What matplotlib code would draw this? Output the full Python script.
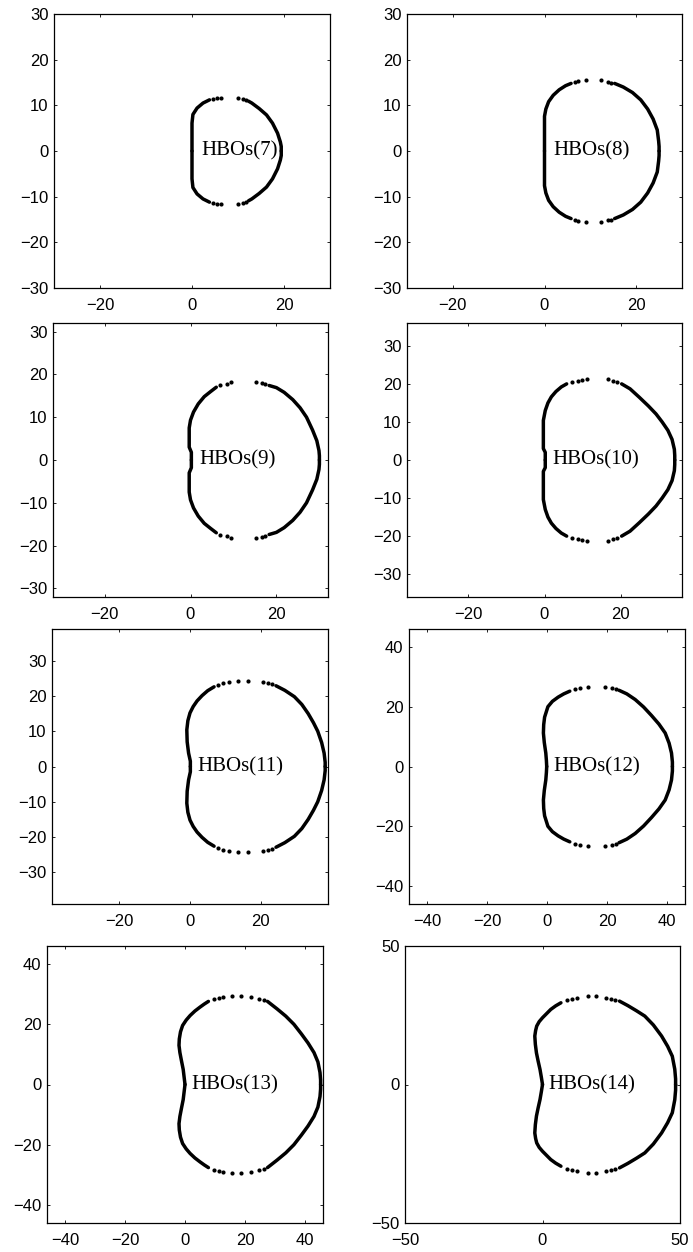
"""Boundary loci of the HBOs(k) stability regions, k = 7..14 (4x2 grid)."""
import matplotlib
matplotlib.use("Agg")
import matplotlib.pyplot as plt
import numpy as np

plt.rcParams["font.family"] = ["Liberation Sans", "DejaVu Sans"]

# upper half of each locus (the plot is symmetric about Re axis)
# left branch from the real axis up, sparse dots near the top, right branch down to the real axis
H7_LEFT = [(0, 0), (0, 6.1), (0.2, 8.0), (1.1, 9.4), (2.4, 10.5), (3.8, 11.2)]
H7_DOTS = [(4.6, 11.4), (5.4, 11.5), (6.3, 11.7), (9.9, 11.7), (11.0, 11.4), (11.8, 11.1)]
H7_RIGHT = [(12.3, 10.9), (13.0, 10.5), (14.6, 9.3), (16.2, 7.9), (17.5, 6.1),
            (18.6, 3.9), (19.2, 2.0), (19.4, 1.0), (19.4, 0)]

H8_LEFT = [(0, 0), (0, 7.6), (0.3, 9.2), (0.9, 10.8), (1.9, 12.2), (3.2, 13.4),
           (4.6, 14.3), (5.8, 14.8)]
H8_DOTS = [(6.6, 15.1), (7.4, 15.3), (9.0, 15.5), (12.3, 15.5), (13.9, 15.2), (14.6, 15.0)]
H8_RIGHT = [(15.3, 14.8), (17.2, 14.0), (19.2, 12.8), (21.0, 11.2), (22.5, 9.2),
            (23.7, 7.0), (24.6, 4.6), (24.9, 2.2), (25.0, 1.0), (25.0, 0)]

H9_LEFT = [(0.2, 0), (0.2, 1.8), (-0.3, 3.0), (-0.3, 7.5), (0, 9.3), (0.7, 11.2),
           (1.8, 13.1), (3.2, 14.8), (4.7, 16.0), (6.0, 17.0)]
H9_DOTS = [(6.9, 17.5), (8.4, 17.8), (9.4, 18.3), (15.3, 18.3), (16.6, 18.0), (17.4, 17.8)]
H9_RIGHT = [(18.3, 17.4), (20.0, 16.9), (21.8, 15.8), (23.8, 14.1), (25.5, 12.2),
            (27.0, 10.0), (28.4, 7.0), (29.4, 4.5), (29.9, 2.2), (30.0, 1.0), (30.0, 0)]

H10_LEFT = [(0.2, 0), (0.2, 2.0), (-0.3, 3.0), (-0.3, 10.4), (0.2, 13.0), (0.9, 15.0),
            (1.8, 16.6), (3.0, 18.0), (4.4, 19.2), (5.8, 20.0)]
H10_DOTS = [(7.2, 20.5), (8.9, 20.8), (9.7, 21.0), (11.2, 21.2),
            (16.5, 21.2), (18.0, 20.8), (19.1, 20.5)]
H10_RIGHT = [(20.2, 20.0), (22.4, 18.7), (24.8, 16.5), (27.2, 14.2), (29.2, 12.1),
             (30.8, 10.0), (32.3, 7.8), (33.4, 5.4), (34.0, 2.8), (34.1, 1.2), (34.1, 0)]

H11_LEFT = [(0.1, 0), (0.1, 1.5), (-0.4, 3.8), (-0.8, 7.0), (-0.9, 10.4), (-0.6, 13.0),
            (0, 15.2), (0.9, 17.0), (2.0, 18.6), (3.4, 20.1), (5.0, 21.5), (6.8, 22.6)]
H11_DOTS = [(7.8, 23.1), (9.2, 23.6), (11.1, 24.0), (13.7, 24.2), (16.3, 24.2),
            (20.7, 24.0), (22.0, 23.6), (23.1, 23.3)]
H11_RIGHT = [(24.3, 22.9), (26.8, 21.6), (29.5, 19.8), (31.6, 17.6), (33.4, 15.0),
             (34.9, 12.4), (36.1, 10.0), (37.2, 6.8), (37.9, 3.8), (38.2, 1.2), (38.2, 0)]

H12_LEFT = [(-0.1, 0), (-0.2, 2.0), (-0.4, 4.5), (-0.9, 8.0), (-1.2, 11.2), (-1.1, 14.0),
            (-0.8, 16.5), (0.3, 20.0), (1.8, 21.8), (3.7, 23.2), (5.6, 24.3), (7.6, 25.2)]
H12_DOTS = [(9.3, 25.8), (10.9, 26.2), (13.5, 26.7), (19.3, 26.7), (21.5, 26.2), (22.9, 25.9)]
H12_RIGHT = [(24.0, 25.5), (26.6, 24.3), (29.4, 22.4), (32.2, 19.9), (34.8, 17.1),
             (37.3, 14.2), (39.4, 11.2), (40.7, 7.8), (41.5, 4.5), (41.8, 1.5), (41.8, 0)]

H13_LEFT = [(0, 0), (-0.3, 2.5), (-0.6, 5.0), (-1.2, 8.0), (-1.7, 10.6), (-2.0, 13.0),
            (-1.9, 15.1), (-1.5, 17.5), (-0.8, 19.6), (0.4, 21.4), (1.7, 22.9),
            (3.3, 24.4), (5.0, 25.7), (6.4, 26.7), (7.8, 27.6)]
H13_DOTS = [(9.5, 28.3), (11.2, 28.7), (12.6, 29.0), (15.6, 29.5), (18.7, 29.5),
            (22.0, 29.0), (24.6, 28.5), (26.3, 28.2)]
H13_RIGHT = [(27.5, 27.6), (30.7, 25.1), (33.6, 22.7), (36.3, 20.0), (38.8, 16.8),
             (41.0, 13.8), (43.0, 10.6), (44.3, 7.5), (45.0, 4.0), (45.2, 1.5), (45.2, 0)]

H14_LEFT = [(0, 0), (-0.4, 2.5), (-0.9, 5.4), (-1.6, 8.5), (-2.2, 11.4), (-2.6, 14.5),
            (-2.8, 17.5), (-2.5, 19.5), (-2.1, 21.1), (-1.2, 22.7), (0, 24.1),
            (1.5, 25.6), (3.0, 27.1), (4.8, 28.4), (6.7, 29.5)]
H14_DOTS = [(8.9, 30.5), (10.7, 31.0), (12.4, 31.4), (16.5, 31.9), (19.5, 31.9),
            (23.2, 31.4), (25.0, 31.0), (26.5, 30.6)]
H14_RIGHT = [(28.0, 30.1), (31.0, 28.5), (34.2, 26.6), (37.2, 24.7), (40.3, 21.5),
             (43.3, 17.5), (45.5, 13.8), (47.2, 10.2), (48.1, 5.5), (48.4, 2.0), (48.4, 0)]

ORDERS = [7, 8, 9, 10, 11, 12, 13, 14]
LIMITS = [30, 30, 32, 36, 39, 46, 46, 50]
X_TICKS = [[-20, 0, 20], [-20, 0, 20], [-20, 0, 20], [-20, 0, 20], [-20, 0, 20],
           [-40, -20, 0, 20, 40], [-40, -20, 0, 20, 40], [-50, 0, 50]]
Y_TICKS = [[-30, -20, -10, 0, 10, 20, 30], [-30, -20, -10, 0, 10, 20, 30],
           [-30, -20, -10, 0, 10, 20, 30], [-30, -20, -10, 0, 10, 20, 30],
           [-30, -20, -10, 0, 10, 20, 30],
           [-40, -20, 0, 20, 40], [-40, -20, 0, 20, 40], [-50, 0, 50]]
CURVES = [
    (H7_LEFT, H7_DOTS, H7_RIGHT), (H8_LEFT, H8_DOTS, H8_RIGHT),
    (H9_LEFT, H9_DOTS, H9_RIGHT), (H10_LEFT, H10_DOTS, H10_RIGHT),
    (H11_LEFT, H11_DOTS, H11_RIGHT), (H12_LEFT, H12_DOTS, H12_RIGHT),
    (H13_LEFT, H13_DOTS, H13_RIGHT), (H14_LEFT, H14_DOTS, H14_RIGHT),
]

# axes boxes in pixels: left, top, right, bottom
W, H = 693, 1252
BOXES = [
    (54, 14, 330, 288), (407, 14, 682, 288),
    (53, 323, 328, 597), (407, 323, 682, 597),
    (52, 629, 328, 904), (409, 629, 685, 904),
    (47, 946, 323, 1223), (405, 946, 680, 1223),
]

fig = plt.figure(figsize=(W / 100, H / 100), dpi=100)
fig.patch.set_facecolor("white")

for k, lim, xt, yt, (left, dots, right), (l, t, r, b) in zip(
        ORDERS, LIMITS, X_TICKS, Y_TICKS, CURVES, BOXES):
    ax = fig.add_axes([l / W, 1 - b / H, (r - l) / W, (b - t) / H])

    for branch in (left, right):
        pts = np.array(branch, dtype=float)
        for sgn in (1, -1):
            ax.plot(pts[:, 0], sgn * pts[:, 1], color="black", lw=2.5,
                    solid_capstyle="round", solid_joinstyle="round", zorder=3)
    d = np.array(dots, dtype=float)
    for sgn in (1, -1):
        ax.plot(d[:, 0], sgn * d[:, 1], "o", color="black", ms=3.0, mew=0, zorder=3)

    ax.text(2, 0, f"HBOs({k})", family=["Liberation Serif", "DejaVu Serif"],
            fontsize=15, ha="left", va="center", zorder=2)

    ax.set_xlim(-lim, lim)
    ax.set_ylim(-lim, lim)
    ax.set_xticks(xt)
    ax.set_yticks(yt)
    ax.tick_params(direction="in", top=True, right=True, length=2.5, width=0.6,
                   labelsize=12)
    ax.tick_params(axis="x", pad=7)
    ax.tick_params(axis="y", pad=4)
    for s in ax.spines.values():
        s.set_linewidth(0.9)

plt.savefig("out.png", dpi=100, facecolor="white")
